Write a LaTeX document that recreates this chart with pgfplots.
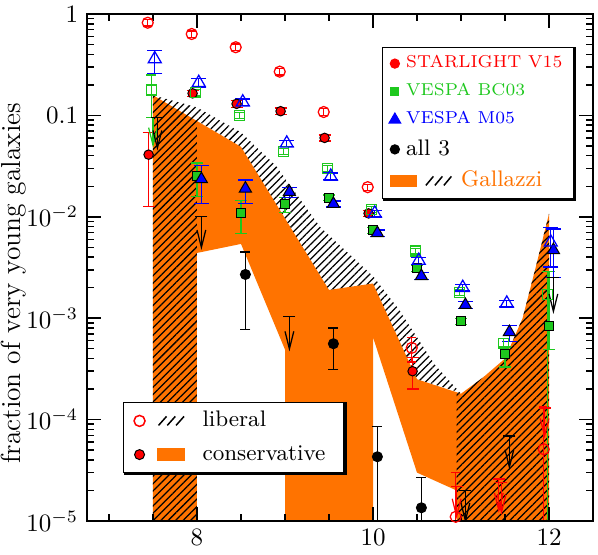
\documentclass[border=0pt]{standalone}
\usepackage{fontspec}
\usepackage{pgfplots}
\pgfplotsset{compat=1.18}
\usepackage{pgfplotstable}
\usetikzlibrary{arrows.meta,patterns.meta}

\definecolor{gorange}{RGB}{255,115,0}
\definecolor{vgreen}{RGB}{30,200,30}

% x y ep em  (errors in linear units)
\pgfplotstableread{
x y ep em
7.44 0.82 0.06 0.06
7.94 0.635 0.045 0.045
8.44 0.47 0.035 0.035
8.94 0.27 0.02 0.02
9.44 0.108 0.008 0.008
9.94 0.0196 0.0014 0.0014
10.44 5.1e-4 1.3e-4 1.4e-4
10.94 1.1e-5 1.9e-5 1.0e-5
11.94 5.1e-5 8.4e-5 5.0e-5
}\redlib
\pgfplotstableread{
x y ep em
7.45 0.041 0.027 0.0284
7.95 0.165 0.012 0.012
8.45 0.13 0.01 0.01
8.95 0.11 0.008 0.008
9.45 0.060 0.004 0.004
9.95 0.0108 0.0008 0.0008
10.45 3.0e-4 1.1e-4 1.0e-4
}\redcon
\pgfplotstableread{
x y ep em
7.48 0.178 0.072 0.082
7.98 0.167 0.012 0.012
8.48 0.100 0.007 0.007
8.98 0.044 0.003 0.003
9.48 0.030 0.002 0.002
9.98 0.0118 0.0008 0.0008
10.48 0.0046 0.0003 0.0003
10.98 0.0018 0.00012 0.00012
11.48 5.6e-4 0.7e-4 0.5e-4
11.98 1.7e-3 1.2e-3 1.699e-3
}\greenlib
\pgfplotstableread{
x y ep em
8.0 0.025 0.009 0.0092
8.5 0.0108 0.0037 0.0039
9.0 0.0134 0.002 0.0023
9.5 0.0154 0.001 0.001
10.0 0.0074 0.0005 0.0005
10.5 0.0031 0.0002 0.0002
11.0 9.3e-4 0.7e-4 0.6e-4
11.5 4.4e-4 0.8e-4 1.1e-4
12.0 8.4e-4 2.06e-3 3.5e-4
}\greencon
\pgfplotstableread{
x y ep em
7.52 0.36 0.08 0.10
8.02 0.21 0.02 0.02
8.52 0.135 0.01 0.01
9.02 0.053 0.004 0.004
9.52 0.025 0.002 0.0018
10.02 0.0108 0.0008 0.0008
10.52 0.0037 0.0003 0.0003
11.02 0.0020 0.00015 0.00015
11.52 0.0014 0.0001 0.0001
12.02 0.0056 0.0022 0.0024
}\bluelib
\pgfplotstableread{
x y ep em
8.05 0.0235 0.0085 0.01
8.55 0.019 0.004 0.0055
9.05 0.0176 0.0019 0.0021
9.55 0.0134 0.0009 0.0009
10.05 0.0069 0.0005 0.0005
10.55 0.0026 0.0002 0.0002
11.05 0.00135 0.0001 0.0001
11.55 7.3e-4 1.2e-4 1.4e-4
12.05 0.0047 0.0029 0.0022
}\bluecon
\pgfplotstableread{
x y ep em
8.55 0.0027 0.0018 0.00192
9.55 5.6e-4 2.4e-4 2.5e-4
10.05 4.3e-5 4.2e-5 4.2e-5
10.55 1.35e-5 1.35e-5 1.25e-5
}\allthree

\pgfplotsset{
  eb/.style={only marks, forget plot,
    error bars/y dir=both, error bars/y explicit,
    error bars/error bar style={line width=0.5pt},
    error bars/error mark options={rotate=90, mark size=#1, line width=0.5pt}},
  eb/.default=2.4pt,
  legbox/.style={legend cell align=left,
    legend style={draw=black, line width=0.5pt, fill=white, anchor=north west}},
}
% upper limit: colour, x, top, arrow end
\newcommand{\uplim}[4]{\addplot[#1, line width=0.5pt, forget plot,
  -{Straight Barb[length=7pt,width=3.5pt]}, mark=-, mark indices={1},
  mark size=2.4pt, mark options={solid}] coordinates {(#2,#3) (#2,#4)};}
\newcommand{\cellbox}{\path[draw=none, fill=none] (-2.5pt,-2.5pt) rectangle (2.5pt,2.5pt);}

\begin{document}
\begin{tikzpicture}
\begin{axis}[
  name=main,
  scale only axis, width=202.4pt, height=202.8pt,
  xmin=6.75, xmax=12.5, ymode=log, ymin=1e-5, ymax=1,
  xtick={8,10,12}, minor xtick={7,7.5,8.5,9,9.5,10.5,11,11.5},
  ytick={1e-5,1e-4,1e-3,1e-2,1e-1,1},
  yticklabels={$10^{-5}$,$10^{-4}$,$10^{-3}$,$10^{-2}$,$0.1$,$1$},
  minor ytick={2e-5,3e-5,4e-5,5e-5,6e-5,7e-5,8e-5,9e-5,2e-4,3e-4,4e-4,5e-4,6e-4,7e-4,8e-4,9e-4,
    0.002,0.003,0.004,0.005,0.006,0.007,0.008,0.009,0.02,0.03,0.04,0.05,0.06,0.07,0.08,0.09,
    0.2,0.3,0.4,0.5,0.6,0.7,0.8,0.9},
  tick pos=both, tick align=inside,
  major tick length=5.6pt, minor tick length=2.8pt,
  tick style={black, line width=0.6pt},
  axis line style={line width=0.8pt},
  axis on top,
  ylabel={fraction of very young galaxies},
  ylabel style={font=\fontsize{11}{13}\selectfont, at={(axis description cs:-0.144,0.469)}, anchor=center},
]
% Gallazzi conservative range
\addplot[fill=gorange, draw=none, forget plot] coordinates {
  (7.5,1e-6) (7.5,0.158) (8.5,0.049) (9.5,0.0019) (10.0,0.0022) (10.5,2.5e-4)
  (11.0,1.8e-4) (11.25,2.6e-4) (11.5,4.0e-4) (11.7,1.0e-3) (11.85,3.2e-3) (12.0,0.0107)
  (12.0,1e-6) (10.95,1e-6) (10.95,2.0e-5) (10.5,3.0e-5) (10.0,6.5e-4) (10.0,1e-6)
  (9.0,1e-6) (9.0,4.9e-4) (8.5,5.4e-3) (8.0,4.4e-3) (8.0,1e-6)} --cycle;
% Gallazzi liberal range
\addplot[pattern={Lines[angle=45,distance=2.1pt,line width=0.5pt]}, pattern color=black,
  draw=none, forget plot] coordinates {
  (7.5,1e-6) (7.5,0.158) (8.0,0.12) (8.5,0.068) (8.9,0.0316) (9.4,0.0079) (10.0,0.0026)
  (10.3,0.0012) (10.7,3.5e-4)
  (11.0,1.8e-4) (11.25,2.6e-4) (11.5,4.0e-4) (11.7,1.0e-3) (11.85,3.2e-3) (12.0,0.0107)
  (12.0,1e-6) (10.95,1e-6) (10.95,1.9e-4) (10.5,2.5e-4) (10.0,0.0022) (9.5,0.0019)
  (8.5,0.049) (8.0,0.089) (8.0,1e-6)} --cycle;

% conservative (filled)
\addplot[eb, red, mark=*, mark size=1.9pt, mark options={fill=red, draw=black, line width=0.4pt}]
  table[x=x, y=y, y error plus=ep, y error minus=em] {\redcon};
\addplot[eb, vgreen, mark=square*, mark size=1.8pt, mark options={fill=vgreen, draw=black, line width=0.4pt}]
  table[x=x, y=y, y error plus=ep, y error minus=em] {\greencon};
\addplot[eb=3pt, blue, mark=triangle*, mark size=2.8pt, mark options={fill=blue, draw=black, line width=0.4pt}]
  table[x=x, y=y, y error plus=ep, y error minus=em] {\bluecon};
% liberal (open)
\addplot[eb=1.8pt, red, mark=o, mark size=2.2pt, mark options={line width=0.5pt}]
  table[x=x, y=y, y error plus=ep, y error minus=em] {\redlib};
\addplot[eb=2pt, vgreen, mark=square, mark size=2pt, mark options={line width=0.5pt}]
  table[x=x, y=y, y error plus=ep, y error minus=em] {\greenlib};
\addplot[eb=3pt, blue, mark=triangle, mark size=3pt, mark options={line width=0.5pt}]
  table[x=x, y=y, y error plus=ep, y error minus=em] {\bluelib};
% all three
\addplot[eb=2pt, black, mark=*, mark size=2pt]
  table[x=x, y=y, y error plus=ep, y error minus=em] {\allthree};

% upper limits
\uplim{vgreen}{7.5}{0.095}{0.048}
\uplim{black}{7.55}{0.095}{0.045}
\uplim{black}{8.05}{0.010}{0.0047}
\uplim{black}{9.05}{1.04e-3}{4.7e-4}
\uplim{black}{11.05}{2.0e-5}{9.5e-6}
\uplim{black}{11.55}{6.9e-5}{3.2e-5}
\uplim{black}{12.05}{2.5e-3}{1.1e-3}
\uplim{red}{10.95}{2.2e-5}{1.05e-5}
\uplim{red}{11.43}{2.6e-5}{1.2e-5}
\uplim{red}{11.46}{2.4e-5}{1.15e-5}
\uplim{red}{11.95}{1.3e-4}{6.5e-5}
\end{axis}

% legend of the samples
\begin{axis}[
  scale only axis, width=202.4pt, height=202.8pt,
  xmin=0, xmax=1, ymin=0, ymax=1, hide axis, legbox,
  legend style={name=legA, at={(0.583,0.935)},
    inner xsep=2.4pt, inner ysep=1.2pt, row sep=0.8pt, column sep=0pt,
    font=\fontsize{6.9}{9}\selectfont},
]
\addlegendimage{legend image code/.code={\fill[red] (0,0) circle (1.8pt); \cellbox}}
\addlegendentry{\textcolor{red}{STARLIGHT V15}}
\addlegendimage{legend image code/.code={\fill[vgreen] (-1.6pt,-1.6pt) rectangle (1.6pt,1.6pt); \cellbox}}
\addlegendentry{\textcolor{vgreen}{VESPA BC03}}
\addlegendimage{legend image code/.code={\fill[blue] (90:2.6pt) -- (210:2.6pt) -- (330:2.6pt) -- cycle; \cellbox}}
\addlegendentry{\textcolor{blue}{VESPA M05}}
\addlegendimage{legend image code/.code={\fill[black] (0,0) circle (1.8pt); \cellbox}}
\addlegendentry{\fontsize{9}{10}\selectfont all 3}
\addlegendimage{legend image code/.code={
  \fill[gorange, overlay] (-1.6pt,-2.3pt) rectangle (8.8pt,2.3pt);
  \draw[black, overlay, line width=0.6pt] (12.4pt,-1.8pt) -- (15.4pt,1.8pt) (16pt,-1.8pt) -- (19pt,1.8pt) (19.6pt,-1.8pt) -- (22.6pt,1.8pt);
  \cellbox}}
\addlegendentry{\hspace*{22pt}\fontsize{9}{10}\selectfont\textcolor{gorange}{Gallazzi}}
\end{axis}

% legend of the two kinds
\begin{axis}[
  scale only axis, width=202.4pt, height=202.8pt,
  xmin=0, xmax=1, ymin=0, ymax=1, hide axis, legbox,
  legend style={name=legB, at={(0.071,0.235)},
    inner xsep=3.9pt, inner ysep=1.5pt, row sep=1.9pt, column sep=0.3pt,
    font=\fontsize{9}{10}\selectfont},
]
\addlegendimage{legend image code/.code={
  \draw[red, line width=0.6pt] (0,0) circle (2.2pt);
  \draw[black, overlay, line width=0.6pt] (7.6pt,-1.8pt) -- (10.8pt,1.8pt) (11.1pt,-1.8pt) -- (14.3pt,1.8pt) (14.6pt,-1.8pt) -- (17.8pt,1.8pt);
  \cellbox}}
\addlegendentry{\hspace*{20.4pt}liberal}
\addlegendimage{legend image code/.code={
  \filldraw[fill=red, draw=black, line width=0.4pt] (0,0) circle (2pt);
  \fill[gorange, overlay] (7.2pt,-2.2pt) rectangle (18pt,2.2pt);
  \cellbox}}
\addlegendentry{\hspace*{20.4pt}conservative\hspace*{1.5pt}}
\end{axis}
% shadow edges of the two legend boxes
\draw[line width=0.9pt] ([xshift=0.5pt,yshift=-0.2pt]legA.south west) -- ([xshift=0.5pt,yshift=-0.2pt]legA.south east) -- ([xshift=0.5pt,yshift=-0.2pt]legA.north east);
\draw[line width=0.9pt] ([xshift=0.5pt,yshift=-0.2pt]legB.south west) -- ([xshift=0.5pt,yshift=-0.2pt]legB.south east) -- ([xshift=0.5pt,yshift=-0.2pt]legB.north east);
\pgfresetboundingbox
\path ([xshift=-34.8pt,yshift=-13.6pt]main.south west) rectangle ([xshift=2pt,yshift=5.6pt]main.north east);
\end{tikzpicture}
\end{document}
